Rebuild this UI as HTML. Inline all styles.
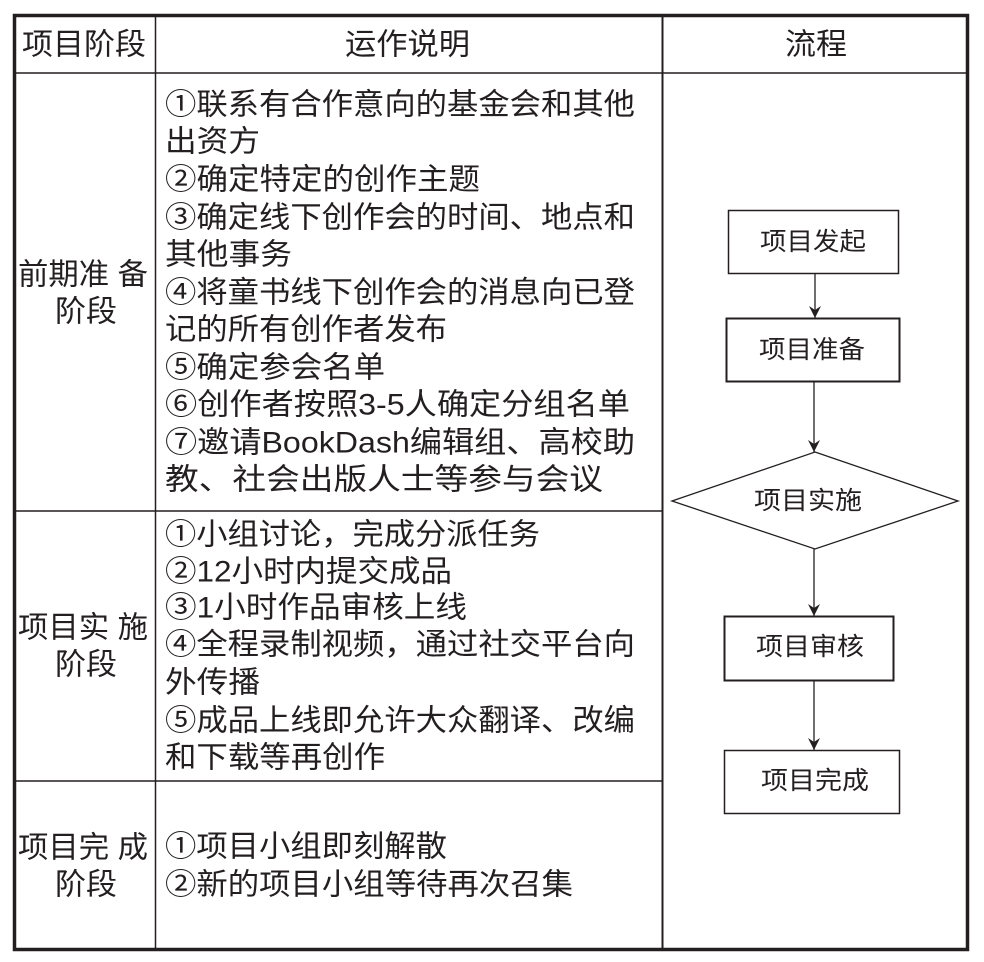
<!DOCTYPE html>
<html><head><meta charset="utf-8"><style>
html,body{margin:0;padding:0;background:#fff;}
svg{display:block;}
text{font-family:"Liberation Sans","Noto Sans CJK SC",sans-serif;fill:#231f20;dominant-baseline:central;}
.t{font-size:30px;}
.f{font-size:25px;}
</style></head><body>
<svg width="984" height="962" viewBox="0 0 984 962" xmlns="http://www.w3.org/2000/svg">
<defs><marker id="a" markerWidth="13" markerHeight="12" refX="12" refY="6" orient="auto" markerUnits="userSpaceOnUse"><path d="M0,0 L12,6 L0,12 L4,6 Z" fill="#231f20"/></marker></defs>
<g stroke="#231f20" fill="none">
<rect x="14.5" y="15.5" width="953" height="934" stroke-width="3.5"/>
<line x1="155.5" y1="15" x2="155.5" y2="950" stroke-width="1.5"/>
<line x1="662.5" y1="15" x2="662.5" y2="950" stroke-width="2"/>
<line x1="14" y1="73" x2="968" y2="73" stroke-width="1.5"/>
<line x1="14" y1="511" x2="662" y2="511" stroke-width="1.5"/>
<line x1="14" y1="781" x2="662" y2="781" stroke-width="1.5"/>
<rect x="728.5" y="210.5" width="170" height="63" stroke-width="1.5"/>
<rect x="726.5" y="318.5" width="173" height="63" stroke-width="2"/>
<polygon points="815,452 958,501 815,549 672,501" stroke-width="1.3"/>
<rect x="724.5" y="616.5" width="169" height="64" stroke-width="2"/>
<rect x="724.5" y="750.5" width="175" height="63" stroke-width="1.5"/>
<line x1="815" y1="273" x2="815" y2="318" stroke-width="1.3" marker-end="url(#a)"/>
<line x1="814" y1="382" x2="814" y2="452" stroke-width="1.3" marker-end="url(#a)"/>
<line x1="814" y1="549" x2="814" y2="616" stroke-width="1.3" marker-end="url(#a)"/>
<line x1="814" y1="681" x2="814" y2="750" stroke-width="1.3" marker-end="url(#a)"/>
</g>
<text class="t" x="22" y="45" textLength="124" lengthAdjust="spacingAndGlyphs">项目阶段</text>
<text class="t" x="345" y="45" textLength="125" lengthAdjust="spacingAndGlyphs">运作说明</text>
<text class="t" x="785" y="45" textLength="62" lengthAdjust="spacingAndGlyphs">流程</text>

<text class="t" x="18" y="275" textLength="130" lengthAdjust="spacingAndGlyphs">前期准 备</text>
<text class="t" x="55" y="312" textLength="62" lengthAdjust="spacingAndGlyphs">阶段</text>
<text class="t" x="18" y="628" textLength="130" lengthAdjust="spacingAndGlyphs">项目实 施</text>
<text class="t" x="55" y="665" textLength="62" lengthAdjust="spacingAndGlyphs">阶段</text>
<text class="t" x="18" y="848" textLength="130" lengthAdjust="spacingAndGlyphs">项目完 成</text>
<text class="t" x="55" y="885" textLength="62" lengthAdjust="spacingAndGlyphs">阶段</text>

<text class="t" x="165" y="105" textLength="470" lengthAdjust="spacingAndGlyphs">①联系有合作意向的基金会和其他</text>
<text class="t" x="165" y="142" textLength="95" lengthAdjust="spacingAndGlyphs">出资方</text>
<text class="t" x="165" y="180" textLength="315" lengthAdjust="spacingAndGlyphs">②确定特定的创作主题</text>
<text class="t" x="165" y="218" textLength="470" lengthAdjust="spacingAndGlyphs">③确定线下创作会的时间、地点和</text>
<text class="t" x="165" y="255" textLength="127" lengthAdjust="spacingAndGlyphs">其他事务</text>
<text class="t" x="165" y="293" textLength="470" lengthAdjust="spacingAndGlyphs">④将童书线下创作会的消息向已登</text>
<text class="t" x="165" y="330" textLength="282" lengthAdjust="spacingAndGlyphs">记的所有创作者发布</text>
<text class="t" x="165" y="368" textLength="220" lengthAdjust="spacingAndGlyphs">⑤确定参会名单</text>
<text class="t" x="165" y="405" textLength="465" lengthAdjust="spacingAndGlyphs">⑥创作者按照3-5人确定分组名单</text>
<text class="t" x="165" y="443" textLength="470" lengthAdjust="spacingAndGlyphs">⑦邀请BookDash编辑组、高校助</text>
<text class="t" x="165" y="480" textLength="438" lengthAdjust="spacingAndGlyphs">教、社会出版人士等参与会议</text>

<text class="t" x="165" y="535" textLength="375" lengthAdjust="spacingAndGlyphs">①小组讨论，完成分派任务</text>
<text class="t" x="165" y="572" textLength="287" lengthAdjust="spacingAndGlyphs">②12小时内提交成品</text>
<text class="t" x="165" y="608" textLength="302" lengthAdjust="spacingAndGlyphs">③1小时作品审核上线</text>
<text class="t" x="165" y="645" textLength="470" lengthAdjust="spacingAndGlyphs">④全程录制视频，通过社交平台向</text>
<text class="t" x="165" y="683" textLength="95" lengthAdjust="spacingAndGlyphs">外传播</text>
<text class="t" x="165" y="721" textLength="470" lengthAdjust="spacingAndGlyphs">⑤成品上线即允许大众翻译、改编</text>
<text class="t" x="165" y="758" textLength="220" lengthAdjust="spacingAndGlyphs">和下载等再创作</text>

<text class="t" x="165" y="847" textLength="282" lengthAdjust="spacingAndGlyphs">①项目小组即刻解散</text>
<text class="t" x="165" y="885" textLength="408" lengthAdjust="spacingAndGlyphs">②新的项目小组等待再次召集</text>

<text class="f" x="760" y="242" textLength="106" lengthAdjust="spacingAndGlyphs">项目发起</text>
<text class="f" x="759" y="350" textLength="106" lengthAdjust="spacingAndGlyphs">项目准备</text>
<text class="f" x="754" y="501" textLength="108" lengthAdjust="spacingAndGlyphs">项目实施</text>
<text class="f" x="756" y="647" textLength="108" lengthAdjust="spacingAndGlyphs">项目审核</text>
<text class="f" x="761" y="781" textLength="108" lengthAdjust="spacingAndGlyphs">项目完成</text>
</svg>
</body></html>
